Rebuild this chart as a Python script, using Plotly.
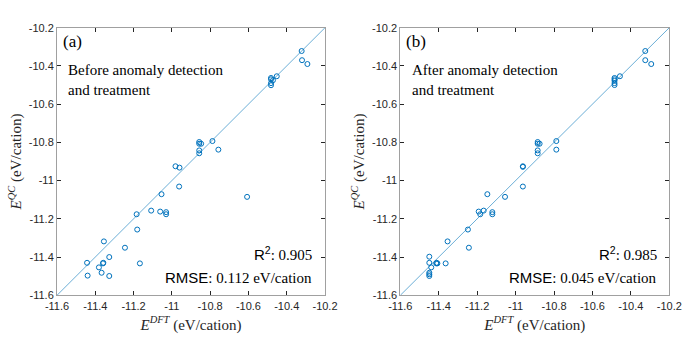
import plotly.graph_objects as go

# DFT vs QC energies (eV/cation)
# (a) before anomaly detection
dft_a = [-10.322, -10.32, -10.292, -10.452, -10.482, -10.482, -10.472, -10.482, -10.482,
         -10.788, -10.757, -10.857, -10.857, -10.847, -10.857, -10.857, -10.981, -10.960,
         -10.962, -10.607, -11.054, -11.108, -11.061, -11.030, -11.030, -11.184, -11.181,
         -11.245, -11.355, -11.327, -11.443, -11.360, -11.358, -11.381, -11.367, -11.440,
         -11.327, -11.167]
qc_a = [-10.322, -10.370, -10.390, -10.454, -10.463, -10.470, -10.475, -10.490, -10.501,
        -10.793, -10.838, -10.798, -10.807, -10.807, -10.842, -10.857, -10.925, -10.932,
        -11.031, -11.085, -11.071, -11.157, -11.162, -11.165, -11.176, -11.176, -11.256,
        -11.351, -11.318, -11.400, -11.430, -11.433, -11.430, -11.454, -11.482, -11.497,
        -11.499, -11.433]

# (b) after anomaly detection and treatment
dft_b = [-10.325, -10.325, -10.294, -10.457, -10.485, -10.485, -10.485, -10.485, -10.485,
         -10.788, -10.788, -10.885, -10.875, -10.885, -10.885, -10.885, -10.962, -10.962,
         -10.962, -11.055, -11.147, -11.192, -11.184, -11.166, -11.121, -11.121, -11.248,
         -11.243, -11.354, -11.364, -11.411, -11.407, -11.413, -11.439, -11.449, -11.449,
         -11.449, -11.449, -11.449]
qc_b = [-10.322, -10.370, -10.390, -10.454, -10.463, -10.470, -10.478, -10.490, -10.500,
        -10.793, -10.838, -10.798, -10.807, -10.807, -10.842, -10.857, -10.925, -10.928,
        -11.031, -11.085, -11.071, -11.162, -11.176, -11.157, -11.165, -11.176, -11.256,
        -11.351, -11.318, -11.433, -11.430, -11.433, -11.433, -11.454, -11.398, -11.430,
        -11.482, -11.490, -11.499]

diag = [-11.6, -10.2]
ticks = [-11.6, -11.4, -11.2, -11, -10.8, -10.6, -10.4, -10.2]
tick_text = ["-11.6", "-11.4", "-11.2", "-11", "-10.8", "-10.6", "-10.4", "-10.2"]

panels = ["(a)", "(b)"]
captions = ["Before anomaly detection<br>and treatment", "After anomaly detection<br>and treatment"]
r2 = ["0.905", "0.985"]
rmse = ["0.112", "0.045"]

blue = "#0072BD"
line_blue = "#6BAED6"
serif = "Liberation Serif"
sans = "Liberation Sans"

fig = go.Figure()

for i, (xs, ys) in enumerate([(dft_a, qc_a), (dft_b, qc_b)]):
    ax = "" if i == 0 else "2"
    fig.add_trace(go.Scatter(x=diag, y=diag, mode="lines",
                             line=dict(color=line_blue, width=1),
                             xaxis="x" + ax, yaxis="y" + ax, showlegend=False))
    fig.add_trace(go.Scatter(x=xs, y=ys, mode="markers",
                             marker=dict(symbol="circle-open", size=5, color=blue,
                                         line=dict(width=1, color=blue)),
                             xaxis="x" + ax, yaxis="y" + ax, showlegend=False))

axis_common = dict(
    range=[-11.6, -10.2], tickvals=ticks, ticktext=tick_text,
    ticks="inside", ticklen=4, tickcolor="#262626", tickwidth=1,
    showline=True, linecolor="#a0a0a0", linewidth=1, mirror="ticks",
    showgrid=False, zeroline=False, automargin=False,
    tickfont=dict(family=sans, size=11, color="#262626"),
)

xtitle = "<i>E</i><sup><i>DFT</i></sup> (eV/cation)"
ytitle = "<i>E</i><sup><i>QC</i></sup> (eV/cation)"
title_font = dict(family=serif, size=15, color="#262626")

fig.update_layout(
    width=692, height=346,
    margin=dict(l=0, r=0, t=0, b=0),
    paper_bgcolor="white", plot_bgcolor="white",
    xaxis=dict(domain=[57 / 692, 325 / 692], anchor="y",
               title=dict(text=xtitle, font=title_font, standoff=8), **axis_common),
    yaxis=dict(domain=[1 - 295.3 / 346, 1 - 27.7 / 346], anchor="x",
               title=dict(text=ytitle, font=title_font, standoff=3), **axis_common),
    xaxis2=dict(domain=[400.3 / 692, 669.3 / 692], anchor="y2",
                title=dict(text=xtitle, font=title_font, standoff=8), **axis_common),
    yaxis2=dict(domain=[1 - 295.3 / 346, 1 - 27.7 / 346], anchor="x2",
                title=dict(text=ytitle, font=title_font, standoff=3), **axis_common),
)

for i in range(2):
    ax = "" if i == 0 else "2"
    xr = "x" + ax + " domain"
    yr = "y" + ax + " domain"
    fig.add_annotation(text=panels[i], xref=xr, yref=yr, x=0.015, y=0.948,
                       xanchor="left", yanchor="middle", showarrow=False,
                       font=dict(family=serif, size=17, color="black"))
    fig.add_annotation(text=captions[i], xref=xr, yref=yr, x=0.035, y=0.805,
                       xanchor="left", yanchor="middle", showarrow=False, align="left",
                       font=dict(family=serif, size=15, color="black"))
    fig.add_annotation(text=f"<span style=\"font-family:Liberation Sans\">R<sup>2</sup></span>: {r2[i]}",
                       xref=xr, yref=yr, x=0.96, y=0.155,
                       xanchor="right", yanchor="middle", showarrow=False,
                       font=dict(family=serif, size=15, color="black"))
    fig.add_annotation(text=f"<span style=\"font-family:Liberation Sans\">RMSE</span>: {rmse[i]} eV/cation",
                       xref=xr, yref=yr, x=0.96, y=0.068,
                       xanchor="right", yanchor="middle", showarrow=False,
                       font=dict(family=serif, size=15, color="black"))

# drop the browser's default body margin so the figure sits at the page corner
fig.write_html("out.html", config={"displayModeBar": False},
               post_script="document.body.style.margin='0';")
